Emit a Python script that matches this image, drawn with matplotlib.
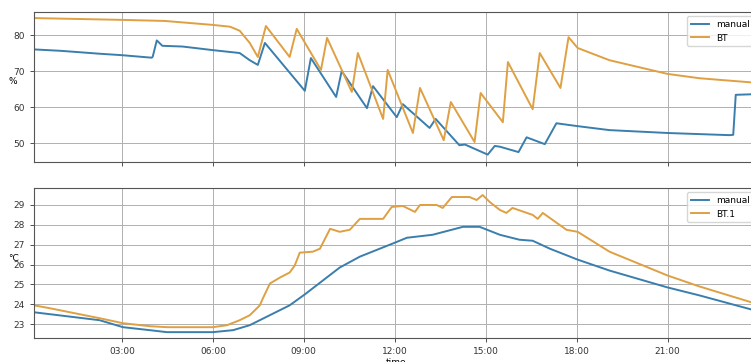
import pandas as pd
import matplotlib
matplotlib.use("Agg")
import matplotlib.pyplot as plt
import matplotlib.dates as mdates

DAY = "2021-07-01 "

# humidity (%), manual sensor
hum_manual_t = ["00:06", "01:00", "02:16", "03:00", "03:59", "04:01", "04:09", "04:20",
                "05:00", "06:00", "06:53", "07:13", "07:29", "07:43", "09:02", "09:14",
                "10:04", "10:15", "11:05", "11:17", "12:04", "12:16", "13:09", "13:21",
                "14:08", "14:19", "15:04", "15:18", "15:28", "16:05", "16:21", "16:57",
                "17:20", "18:02", "19:05", "21:00", "23:03", "23:10", "23:15", "23:59"]
hum_manual_v = [76.0, 75.6, 74.8, 74.4, 73.7, 74.0, 78.5, 77.0,
                76.8, 75.8, 75.0, 73.0, 71.7, 77.8, 64.5, 73.6,
                62.8, 70.0, 59.7, 65.8, 57.2, 60.8, 54.2, 56.7,
                49.4, 49.6, 46.8, 49.2, 49.0, 47.5, 51.6, 49.7,
                55.5, 54.7, 53.6, 52.8, 52.2, 52.3, 63.4, 63.6]

# humidity (%), BT sensor
hum_bt_t = ["00:06", "03:00", "04:25", "06:00", "06:34", "06:53", "07:13", "07:29",
            "07:45", "08:32", "08:46", "09:34", "09:46", "10:35", "10:47", "11:37",
            "11:46", "12:36", "12:50", "13:37", "13:51", "14:38", "14:50", "15:34",
            "15:44", "16:33", "16:47", "17:28", "17:44", "18:02", "19:05", "21:00",
            "22:03", "23:59"]
hum_bt_v = [84.7, 84.2, 83.9, 82.8, 82.3, 81.2, 77.8, 73.9,
            82.5, 73.9, 81.7, 70.3, 79.2, 64.2, 75.0, 56.7,
            70.3, 52.8, 65.3, 50.8, 61.4, 50.3, 63.9, 55.8,
            72.5, 59.4, 75.0, 65.3, 79.4, 76.4, 73.0, 69.2,
            68.0, 66.7]

# temperature (°C), manual sensor
t_manual_t = ["00:06", "02:16", "03:02", "03:55", "04:29", "06:00", "06:40", "07:13",
              "08:32", "09:02", "10:11", "10:51", "12:00", "12:24", "13:15", "14:15",
              "14:48", "15:28", "16:07", "16:33", "17:07", "18:02", "19:05", "21:00",
              "22:03", "23:59"]
t_manual_v = [23.6, 23.2, 22.85, 22.7, 22.6, 22.6, 22.7, 22.95,
              23.95, 24.5, 25.85, 26.4, 27.1, 27.35, 27.5, 27.9,
              27.9, 27.5, 27.25, 27.2, 26.8, 26.25, 25.7, 24.85,
              24.45, 23.65]

# temperature (°C), BT sensor
t_bt_t = ["00:06", "00:38", "02:16", "03:02", "03:55", "04:29", "06:00", "06:28",
          "06:53", "07:13", "07:33", "07:39", "07:53", "08:13", "08:32", "08:42",
          "08:52", "09:18", "09:32", "09:52", "10:11", "10:31", "10:51", "11:37",
          "11:54", "12:16", "12:40", "12:50", "13:23", "13:35", "13:53", "14:28",
          "14:42", "14:54", "15:08", "15:28", "15:41", "15:53", "16:33", "16:43",
          "16:53", "17:40", "18:02", "19:05", "21:00", "22:03", "23:59"]
t_bt_v = [23.95, 23.8, 23.3, 23.05, 22.9, 22.85, 22.85, 22.95,
          23.2, 23.45, 23.95, 24.3, 25.05, 25.35, 25.6, 25.95,
          26.6, 26.65, 26.8, 27.8, 27.65, 27.75, 28.3, 28.3,
          28.9, 28.95, 28.65, 29.0, 29.0, 28.85, 29.4, 29.4,
          29.25, 29.5, 29.15, 28.75, 28.6, 28.85, 28.5, 28.3,
          28.6, 27.75, 27.65, 26.65, 25.45, 24.9, 24.0]


def to_time(lst):
    return pd.to_datetime([DAY + t for t in lst])


BLUE = "#3a7ead"
ORANGE = "#dfa043"
FS = 6.5
LW = 1.4

plt.rcParams["font.size"] = FS
fig = plt.figure(figsize=(7.51, 3.62), dpi=100)
ax1 = fig.add_axes([0.0453, 0.552, 0.964, 0.415])
ax2 = fig.add_axes([0.0453, 0.066, 0.964, 0.415], sharex=ax1)

ax1.plot(to_time(hum_manual_t), hum_manual_v, color=BLUE, lw=LW, label="manual")
ax1.plot(to_time(hum_bt_t), hum_bt_v, color=ORANGE, lw=LW, label="BT")
ax2.plot(to_time(t_manual_t), t_manual_v, color=BLUE, lw=LW, label="manual")
ax2.plot(to_time(t_bt_t), t_bt_v, color=ORANGE, lw=LW, label="BT.1")

ax1.set_ylim(44.7, 86.4)
ax1.set_yticks([50, 60, 70, 80])
ax2.set_ylim(22.3, 29.86)
ax2.set_yticks([23, 24, 25, 26, 27, 28, 29])
ax1.set_xlim(pd.Timestamp(DAY + "00:06"), pd.Timestamp(DAY + "23:59"))

ax2.xaxis.set_major_locator(mdates.HourLocator(byhour=range(0, 24, 3)))
ax2.xaxis.set_major_formatter(mdates.DateFormatter("%H:%M"))
plt.setp(ax1.get_xticklabels(), visible=False)

for ax in (ax1, ax2):
    ax.grid(True, color="#b0b0b0", lw=0.7)
    ax.tick_params(labelsize=FS, length=3, width=0.6, colors="#333333")
    for s in ax.spines.values():
        s.set_color("#555555")
    ax.legend(loc="upper right", fontsize=FS, framealpha=0.8)

ax1.set_ylabel("%", rotation=0, fontsize=FS, va="center")
ax1.yaxis.set_label_coords(-0.029, 0.54)
ax2.set_ylabel("°C", rotation=0, fontsize=FS, va="center")
ax2.yaxis.set_label_coords(-0.029, 0.53)
ax2.set_xlabel("time", fontsize=FS, labelpad=1)

fig.savefig("out.png", dpi=100)
